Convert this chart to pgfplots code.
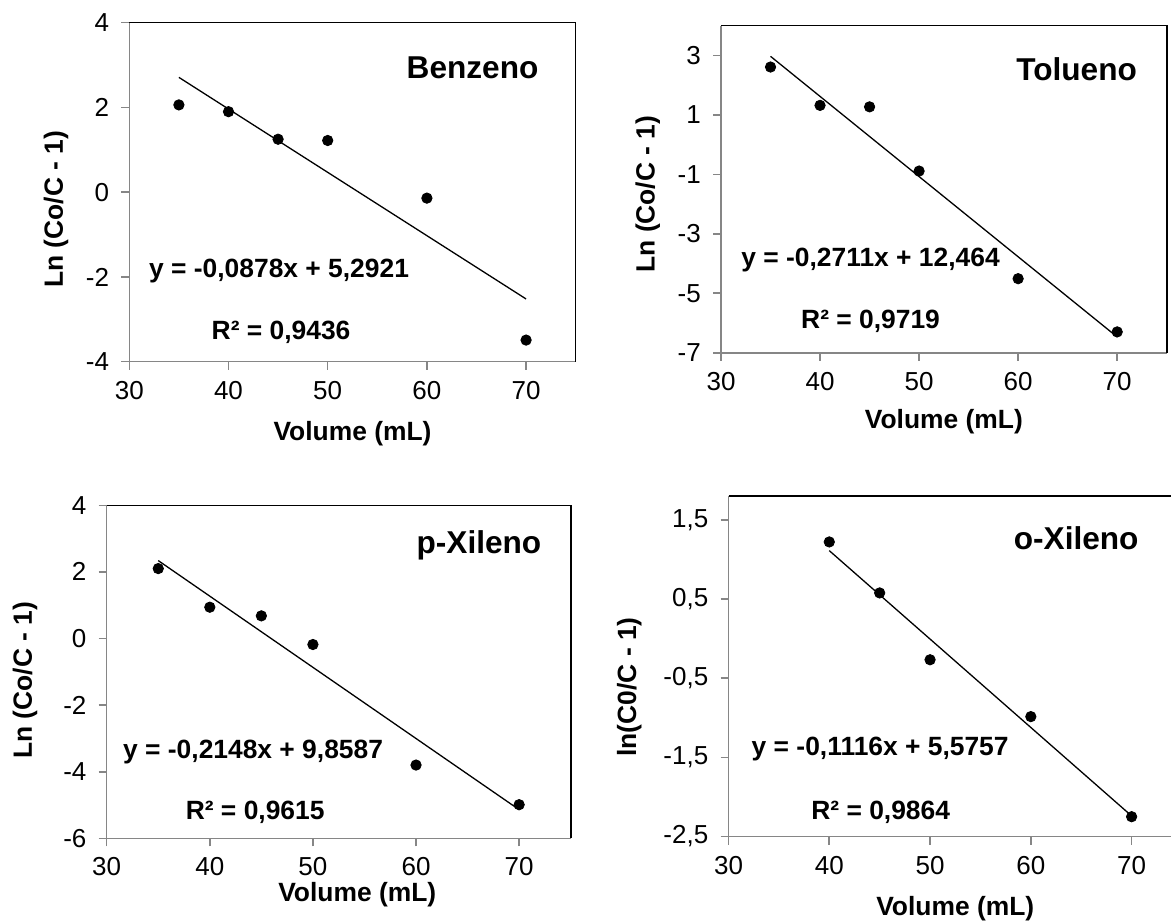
\documentclass[border=0pt]{standalone}
\usepackage{fontspec}
\setmainfont{Liberation Sans}
\usepackage{pgfplots}
\pgfplotsset{compat=1.18}
\definecolor{axgray}{RGB}{134,134,134}

\pgfplotsset{
  panel/.style={
    scale only axis,
    axis x line*=bottom, axis y line*=left,
    axis line style={axgray, line width=0.8pt},
    xmin=30, xmax=75,
    xtick={30,40,50,60,70},
    tick style={axgray, line width=0.8pt},
    tick align=outside,
    major tick length=4pt,
    ticklabel style={font=\fontsize{13}{15}\selectfont, text=black},
    xticklabel shift=2.2pt,
    yticklabel shift=2.6pt,
    /pgf/number format/assume math mode=true,
    clip=false,
  },
  dots/.style={only marks, mark=*, mark size=2.6pt, black},
  fit/.style={no marks, black, line width=0.65pt},
}
\tikzset{
  ttl/.style={font=\fontsize{15.8}{18}\selectfont\bfseries, inner sep=0pt},
  eqn/.style={font=\fontsize{13.2}{15}\selectfont\bfseries, inner sep=0pt},
  lbl/.style={font=\fontsize{13.2}{15}\selectfont\bfseries, anchor=center},
}

\begin{document}
\begin{tikzpicture}
% ---------------- Benzeno
\begin{axis}[panel, at={(64.65pt,-11.35pt)}, anchor=north west,
  width=223.2pt, height=169.5pt, ymin=-4, ymax=4, ytick={-4,-2,0,2,4},
  xlabel={Volume (mL)}, ylabel={Ln (Co/C - 1)},
  every axis x label/.style={at={(axis description cs:0.5,-0.211)}, lbl},
  every axis y label/.style={at={(axis description cs:-0.164,0.45)}, lbl, rotate=90}]
\addplot[fit] coordinates {(35,2.71) (70,-2.52)};
\addplot[dots] coordinates {(35,2.06) (40,1.90) (45,1.25) (50,1.22) (60,-0.14) (70,-3.49)};
\node[ttl] at (axis cs:64.6,2.93) {Benzeno};
\node[eqn] at (axis cs:45.1,-1.85) {y = -0,0878x + 5,2921};
\node[eqn] at (axis cs:45.3,-3.31) {R² = 0,9436};
\draw[black, line width=0.8pt] (rel axis cs:0,1) -- (rel axis cs:1,1) -- (rel axis cs:1,0);
\end{axis}
% ---------------- Tolueno
\begin{axis}[panel, at={(360.5pt,-12.85pt)}, anchor=north west,
  width=222.85pt, height=163.5pt, ymin=-7, ymax=4, ytick={-7,-5,-3,-1,1,3},
  xlabel={Volume (mL)}, ylabel={Ln (Co/C - 1)},
  every axis x label/.style={at={(axis description cs:0.5,-0.211)}, lbl},
  every axis y label/.style={at={(axis description cs:-0.164,0.485)}, lbl, rotate=90}]
\addplot[fit] coordinates {(35,2.97) (70,-6.47)};
\addplot[dots] coordinates {(35,2.61) (40,1.32) (45,1.27) (50,-0.89) (60,-4.51) (70,-6.30)};
\node[ttl] at (axis cs:65.9,2.52) {Tolueno};
\node[eqn] at (axis cs:45.1,-3.87) {y = -0,2711x + 12,464};
\node[eqn] at (axis cs:45.1,-5.94) {R² = 0,9719};
\draw[black, line width=0.8pt] (rel axis cs:0,1) -- (rel axis cs:1,1) -- (rel axis cs:1,0);
\end{axis}
% ---------------- p-Xileno
\begin{axis}[panel, at={(53.35pt,-252.65pt)}, anchor=north west,
  width=232pt, height=166.5pt, ymin=-6, ymax=4, ytick={-6,-4,-2,0,2,4},
  xlabel={Volume (mL)}, ylabel={Ln (Co/C - 1)},
  every axis x label/.style={at={(axis description cs:0.54,-0.170)}, lbl},
  every axis y label/.style={at={(axis description cs:-0.176,0.475)}, lbl, rotate=90}]
\addplot[fit] coordinates {(35,2.34) (70,-5.14)};
\addplot[dots] coordinates {(35,2.10) (40,0.94) (45,0.68) (50,-0.18) (60,-3.80) (70,-4.99)};
\node[ttl] at (axis cs:66.1,2.81) {p-Xileno};
\node[eqn] at (axis cs:44.2,-3.42) {y = -0,2148x + 9,8587};
\node[eqn] at (axis cs:44.4,-5.22) {R² = 0,9615};
\draw[black, line width=0.8pt] (rel axis cs:0,1) -- (rel axis cs:1,1) -- (rel axis cs:1,0);
\end{axis}
% ---------------- o-Xileno
\begin{axis}[panel, at={(364.25pt,-248pt)}, anchor=north west,
  width=226.75pt, height=170.25pt, ymin=-2.5, ymax=1.8,
  ytick={-2.5,-1.5,-0.5,0.5,1.5}, yticklabels={{-2,5},{-1,5},{-0,5},{0,5},{1,5}},
  xlabel={Volume (mL)}, ylabel={ln(C0/C - 1)},
  every axis x label/.style={at={(axis description cs:0.5,-0.211)}, lbl},
  every axis y label/.style={at={(axis description cs:-0.219,0.439)}, lbl, rotate=90}]
\addplot[fit] coordinates {(40,1.11) (70,-2.24)};
\addplot[dots] coordinates {(40,1.22) (45,0.576) (50,-0.268) (60,-0.986) (70,-2.25)};
\node[ttl] at (axis cs:64.5,1.27) {o-Xileno};
\node[eqn] at (axis cs:45.05,-1.39) {y = -0,1116x + 5,5757};
\node[eqn] at (axis cs:45.1,-2.19) {R² = 0,9864};
\draw[black, line width=0.8pt] (rel axis cs:0,1) -- (rel axis cs:1,1) -- (rel axis cs:1,0);
\end{axis}
\pgfresetboundingbox
\useasboundingbox (0,0) rectangle (585.5pt,-460pt);
\end{tikzpicture}
\end{document}
